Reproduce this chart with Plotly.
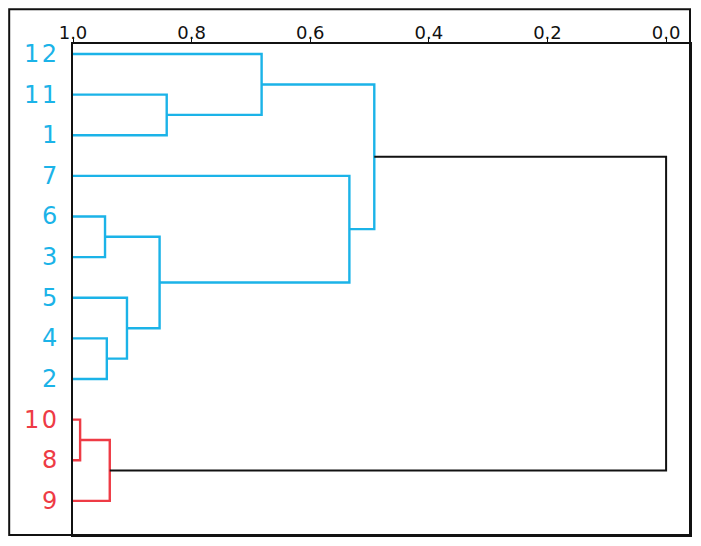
import plotly.graph_objects as go

# ---- data ----
leaf_labels = ["12", "11", "1", "7", "6", "3", "5", "4", "2", "10", "8", "9"]
leaf_groups = ["A", "A", "A", "A", "A", "A", "A", "A", "A", "B", "B", "B"]
# merges: (left cluster id, right cluster id, similarity); new ids start at 12
merge_left = [1, 0, 4, 7, 6, 14, 3, 13, 9, 11, 19]
merge_right = [2, 12, 5, 8, 15, 16, 17, 18, 10, 20, 21]
merge_sim = [0.842, 0.682, 0.946, 0.943, 0.909, 0.854, 0.534, 0.492, 0.988, 0.938, 0.0]
tick_vals = [1.0, 0.8, 0.6, 0.4, 0.2, 0.0]
tick_text = ["1.0", "0.8", "0.6", "0.4", "0.2", "0.0"]

group_colors = {"A": "#1bb3e8", "B": "#ee3b45", "root": "#111111"}

# ---- build dendrogram geometry ----
n = len(leaf_labels)
pos_y = {i: float(i) for i in range(n)}
pos_h = {i: 1.0 for i in range(n)}
grp = {i: leaf_groups[i] for i in range(n)}
segs = {k: ([], []) for k in group_colors}
for k, (a, b, h) in enumerate(zip(merge_left, merge_right, merge_sim)):
    cid = n + k
    g = grp[a] if grp[a] == grp[b] else "root"
    xs, ys = segs[g]
    xs += [pos_h[a], h, h, pos_h[b], None]
    ys += [pos_y[a], pos_y[a], pos_y[b], pos_y[b], None]
    pos_y[cid] = (pos_y[a] + pos_y[b]) / 2
    pos_h[cid] = h
    grp[cid] = g

fig = go.Figure()
for g, (xs, ys) in segs.items():
    fig.add_trace(go.Scatter(x=xs, y=ys, mode="lines",
                             line=dict(color=group_colors[g], width=2.4 if g != "root" else 2),
                             hoverinfo="skip", showlegend=False))

for i, lab in enumerate(leaf_labels):
    fig.add_annotation(x=-0.022, xref="paper", y=i, yref="y", text="\u200a".join(lab),
                       showarrow=False, xanchor="right", yanchor="middle",
                       font=dict(family="DejaVu Sans", size=24, color=group_colors[leaf_groups[i]]))

fig.add_shape(type="rect", xref="paper", yref="paper", x0=-0.1034, x1=1.0, y0=0, y1=1.071,
              line=dict(color="#111111", width=2), fillcolor="rgba(0,0,0,0)", layer="above")

fig.update_layout(
    width=693, height=538,
    margin=dict(l=65, r=9, t=36, b=9),
    paper_bgcolor="white", plot_bgcolor="white",
    xaxis=dict(range=[1.0, -0.0403], side="top", tickvals=tick_vals, ticktext=tick_text,
               ticks="outside", ticklen=5, tickcolor="#111111", tickwidth=1,
               ticklabelstandoff=-9,
               showline=True, mirror=True, linecolor="#111111", linewidth=2,
               showgrid=False, zeroline=False,
               tickfont=dict(family="DejaVu Sans", size=18, color="#111111")),
    yaxis=dict(range=[11.84, -0.245], showticklabels=False, ticks="",
               showline=True, mirror=True, linecolor="#111111", linewidth=2,
               showgrid=False, zeroline=False),
)

fig.write_html("out.html")
